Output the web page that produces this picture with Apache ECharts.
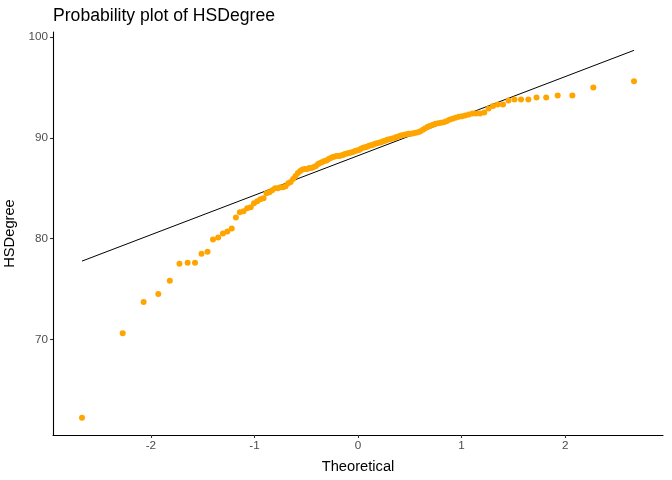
<!DOCTYPE html>
<html>
<head>
<meta charset="utf-8">
<script src="https://cdn.jsdelivr.net/npm/echarts@6/dist/echarts.min.js"></script>
<style>
  html, body { margin: 0; padding: 0; background: #fff; }
  #main { width: 672px; height: 480px; }
</style>
</head>
<body>
<div id="main"></div>
<script>
// theoretical normal quantiles, one per sorted observation (n = 130)
var theoretical = [
  -2.665, -2.272, -2.070, -1.928, -1.817, -1.724, -1.645, -1.574, -1.511, -1.453,
  -1.400, -1.350, -1.304, -1.261, -1.219, -1.179, -1.141, -1.105, -1.070, -1.036,
  -1.004, -0.973, -0.942, -0.912, -0.883, -0.855, -0.828, -0.801, -0.775, -0.749,
  -0.724, -0.699, -0.674, -0.650, -0.627, -0.603, -0.580, -0.558, -0.535, -0.513,
  -0.491, -0.470, -0.448, -0.427, -0.406, -0.385, -0.365, -0.344, -0.324, -0.303,
  -0.283, -0.263, -0.243, -0.223, -0.204, -0.184, -0.164, -0.145, -0.126, -0.106,
  -0.087, -0.068, -0.048, -0.029, -0.010,
  0.010, 0.029, 0.048, 0.068, 0.087, 0.106, 0.126, 0.145, 0.164, 0.184,
  0.204, 0.223, 0.243, 0.263, 0.283, 0.303, 0.324, 0.344, 0.365, 0.385,
  0.406, 0.427, 0.448, 0.470, 0.491, 0.513, 0.535, 0.558, 0.580, 0.603,
  0.627, 0.650, 0.674, 0.699, 0.724, 0.749, 0.775, 0.801, 0.828, 0.855,
  0.883, 0.912, 0.942, 0.973, 1.004, 1.036, 1.070, 1.105, 1.141, 1.179,
  1.219, 1.261, 1.304, 1.350, 1.400, 1.453, 1.511, 1.574, 1.645, 1.724,
  1.817, 1.928, 2.070, 2.272, 2.665
];

// sorted HSDegree values
var hsDegree = [
  62.2, 70.6, 73.7, 74.5, 75.8, 77.5, 77.6, 77.6, 78.5, 78.7,
  79.9, 80.1, 80.5, 80.7, 81.0, 82.1, 82.6, 82.7, 83.0, 83.1,
  83.5, 83.7, 83.9, 84.0, 84.5, 84.6, 84.8, 85.0, 85.0, 85.1,
  85.1, 85.2, 85.5, 85.6, 85.9, 86.2, 86.5, 86.7, 86.85, 86.9,
  86.9, 87.0, 87.0, 87.1, 87.2, 87.4, 87.5, 87.6, 87.7, 87.75,
  87.9, 88.0, 88.1, 88.15, 88.2, 88.2, 88.25, 88.3, 88.4, 88.45,
  88.5, 88.55, 88.6, 88.7, 88.75,
  88.8, 88.9, 89.0, 89.05, 89.1, 89.2, 89.25, 89.3, 89.4, 89.45,
  89.5, 89.55, 89.65, 89.7, 89.8, 89.85, 89.9, 89.95, 90.05, 90.1,
  90.2, 90.25, 90.3, 90.35, 90.4, 90.4, 90.45, 90.5, 90.55, 90.65,
  90.8, 90.95, 91.1, 91.2, 91.3, 91.4, 91.45, 91.5, 91.55, 91.65,
  91.8, 91.9, 92.0, 92.1, 92.15, 92.2, 92.3, 92.4, 92.4, 92.4,
  92.5, 92.9, 93.15, 93.3, 93.3, 93.7, 93.8, 93.8, 93.8, 94.0,
  94.0, 94.2, 94.2, 95.0, 95.6
];

// reference line end points (through the quartiles)
var lineX = [-2.665, 2.665];
var lineY = [77.76, 98.68];

var xTicks = [-2, -1, 0, 1, 2];
var yTicks = [70, 80, 90, 100];

var points = theoretical.map(function (x, i) { return [x, hsDegree[i]]; });
var linePts = lineX.map(function (x, i) { return [x, lineY[i]]; });

var font = '"Liberation Sans", Arial, sans-serif';

var chart = echarts.init(document.getElementById('main'), null, { renderer: 'canvas' });
chart.setOption({
  backgroundColor: '#ffffff',
  animation: false,
  textStyle: { fontFamily: font },
  title: {
    text: 'Probability plot of HSDegree',
    left: 53,
    top: 7,
    padding: 0,
    textStyle: { fontFamily: font, fontSize: 17.6, fontWeight: 'normal', color: '#000' }
  },
  grid: { left: 53, right: 9, top: 32, bottom: 45, containLabel: false, outerBoundsMode: 'none' },
  xAxis: {
    type: 'value',
    min: -2.945,
    max: 2.945,
    name: 'Theoretical',
    nameLocation: 'middle',
    nameGap: 24,
    nameTextStyle: { fontFamily: font, fontSize: 14.7, color: '#000' },
    splitLine: { show: false },
    axisLine: { onZero: false, lineStyle: { color: '#000', width: 1.1 } },
    axisTick: { customValues: xTicks, length: 3, lineStyle: { color: '#333', width: 1.1 } },
    axisLabel: { customValues: xTicks, margin: 5, fontSize: 11.7, color: '#4d4d4d', fontFamily: font }
  },
  yAxis: {
    type: 'value',
    min: 60.5,
    max: 100.5,
    name: 'HSDegree',
    nameLocation: 'middle',
    nameGap: 32,
    nameRotate: 90,
    nameTextStyle: { fontFamily: font, fontSize: 14.7, color: '#000' },
    splitLine: { show: false },
    axisLine: { onZero: false, lineStyle: { color: '#000', width: 1.1 } },
    axisTick: { customValues: yTicks, length: 3, lineStyle: { color: '#333', width: 1.1 } },
    axisLabel: { customValues: yTicks, margin: 5, fontSize: 11.7, color: '#4d4d4d', fontFamily: font }
  },
  series: [
    {
      name: 'line',
      type: 'line',
      data: linePts,
      symbol: 'none',
      lineStyle: { color: '#000', width: 1 },
      z: 1
    },
    {
      name: 'HSDegree',
      type: 'scatter',
      data: points,
      symbolSize: 6,
      itemStyle: { color: '#ffa500', opacity: 1 },
      z: 2
    }
  ]
});
</script>
</body>
</html>
